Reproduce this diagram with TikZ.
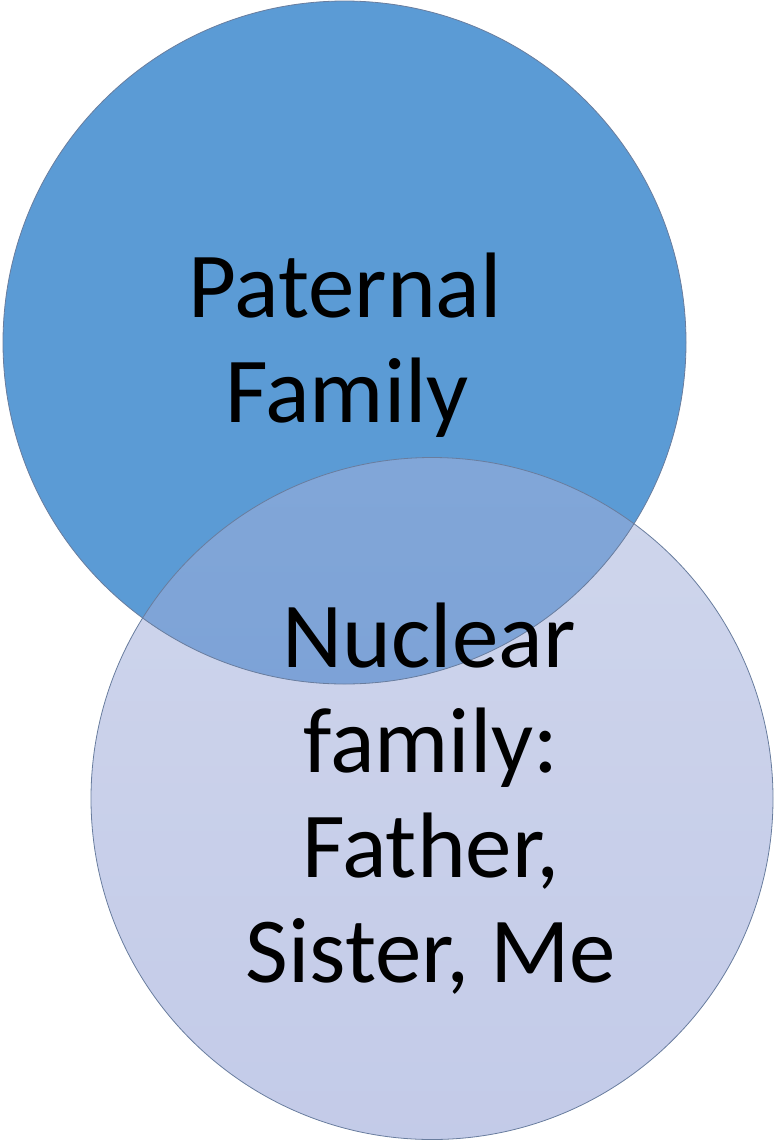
\documentclass[tikz,border=0pt]{standalone}
\usepackage{fontspec}
\setmainfont{Carlito}
\definecolor{topblue}{RGB}{91,155,213}
\definecolor{lavtop}{RGB}{164,177,219}
\definecolor{lavbot}{RGB}{142,156,212}
\definecolor{ringline}{RGB}{105,125,158}
\tikzset{
  ring/.style={draw=ringline, line width=0.8pt},
  bigtext/.style={font=\fontsize{93}{105}\selectfont, anchor=base, inner sep=0pt, text=black}
}
\begin{document}
\begin{tikzpicture}[x=1pt,y=-1pt]
\useasboundingbox (0,0) rectangle (775,1141);
\coordinate (ctop) at (344.5,342.5);
\coordinate (cbot) at (432,798.5);
\fill[topblue] (ctop) circle[radius=341.5];
\shade[top color=lavtop, bottom color=lavbot, fill opacity=0.53] (cbot) circle[radius=341];
\draw[ring] (ctop) circle[radius=341.5];
\draw[ring] (cbot) circle[radius=341];
\node[bigtext] (p1) at (345,317) {Paternal};
\node[bigtext] (p2) at (347,422) {Family};
\node[bigtext] (n1) at (429,667) {Nuclear};
\node[bigtext] (n2) at (431,772) {family:};
\node[bigtext] (n3) at (431,877) {Father,};
\node[bigtext] (n4) at (431,982) {Sister, Me};
\end{tikzpicture}
\end{document}
